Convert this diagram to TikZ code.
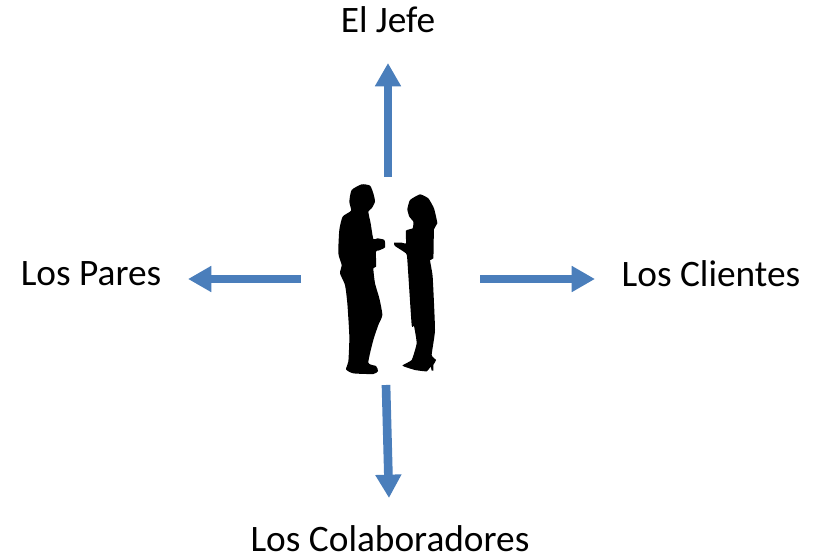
\documentclass[tikz,border=0pt]{standalone}
\usepackage{fontspec}
\setmainfont{Carlito}
\usetikzlibrary{arrows.meta}
\definecolor{pfeil}{HTML}{4A7EBB}
\begin{document}
\begin{tikzpicture}[
		x=0.75pt, y=-0.75pt,
		every node/.style={font=\fontsize{28}{32}\selectfont, inner sep=0pt},
		pfeil/.style={draw=pfeil, line width=6.5pt, -{Triangle[length=17.5pt,width=18.5pt]}},
		figur/.style={fill=black, draw=none}]
		
		\useasboundingbox (0,0) rectangle (815,560);
		
		\node (jefe) at (388,20) {El Jefe};
		\node (pares) at (91,274) {Los Pares};
		\node (clientes) at (711,274) {Los Clientes};
		\node (colab) at (390,539) {Los Colaboradores};
		
		\coordinate (oben) at (388,177);
		\coordinate (obenE) at (388,63);
		\coordinate (links) at (301,279);
		\coordinate (linksE) at (188,279);
		\coordinate (rechts) at (480,279);
		\coordinate (rechtsE) at (595,279);
		\coordinate (unten) at (386,385);
		\coordinate (untenE) at (389,498);
		
		\draw[pfeil] (oben) -- (obenE);
		\draw[pfeil] (links) -- (linksE);
		\draw[pfeil] (rechts) -- (rechtsE);
		\draw[pfeil] (unten) -- (untenE);
		
		\begin{scope}[shift={(320,170)}, x=0.25pt, y=-0.25pt]
			\fill[figur] plot[smooth cycle, tension=0.35] coordinates {
				(125,43) (150,47) (160,70) (165,95) (155,115) (145,125) (152,160) (160,207)
				(172,205) (193,210) (195,232) (175,242) (168,245) (168,290) (160,295) (165,340)
				(178,385) (187,435) (175,465) (160,510) (145,578) (168,588) (174,603) (160,612)
				(100,610) (78,598) (85,575) (88,500) (82,400) (75,345) (60,310) (65,285)
				(55,250) (58,180) (68,140) (93,122) (88,95) (95,60)};
			\fill[figur] plot[smooth cycle, tension=0.25] coordinates {
				(300,73) (325,85) (342,115) (352,160) (342,178) (340,265) (330,270) (338,320)
				(345,480) (335,555) (348,570) (340,585) (340,602) (335,602) (332,590) (320,604)
				(285,600) (247,587) (275,570) (290,520) (282,468) (275,465) (262,270) (258,250)
				(225,228) (222,218) (245,218) (258,220) (258,182) (278,175) (280,155) (268,140)
				(262,118) (270,90)};
		\end{scope}
		
	\end{tikzpicture}
\end{document}
